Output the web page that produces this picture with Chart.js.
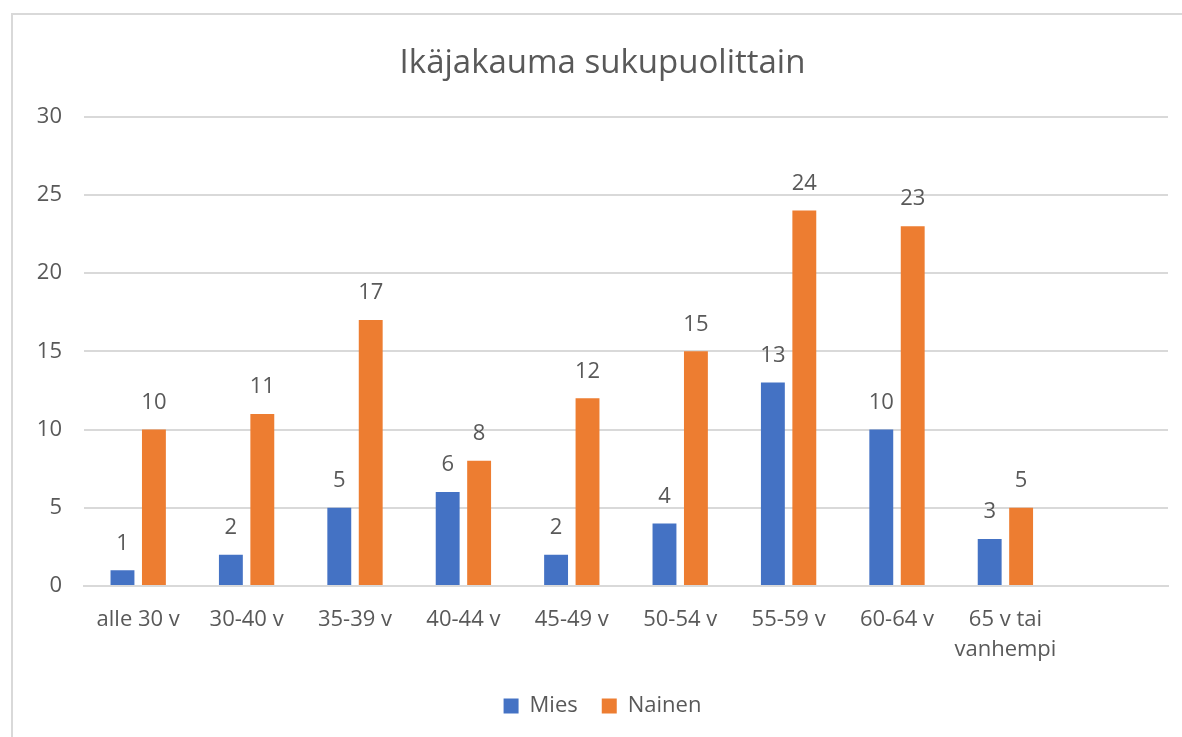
<!DOCTYPE html>
<html>
<head>
<meta charset="utf-8">
<script src="https://cdn.jsdelivr.net/npm/chart.js@4"></script>
<style>
  html, body { margin: 0; padding: 0; background: #fff; overflow: hidden; }
  #frame {
    position: absolute; left: 11px; top: 13px;
    border-left: 2px solid #d9d9d9; border-top: 2px solid #d9d9d9;
    width: 1169px; height: 722px;
  }
</style>
</head>
<body>
<div id="frame"><canvas id="chart_ages"></canvas></div>
<script>
const categories = ['alle 30 v', '30-40 v', '35-39 v', '40-44 v', '45-49 v', '50-54 v', '55-59 v', '60-64 v', ['65 v tai', 'vanhempi'], ''];
const mies = [1, 2, 5, 6, 2, 4, 13, 10, 3, null];
const nainen = [10, 11, 17, 8, 12, 15, 24, 23, 5, null];
const yTicks = [0, 5, 10, 15, 20, 25, 30];

const textColor = '#595959';
const fontFamily = "'Segoe UI', 'Open Sans', sans-serif";

// values above the bars, like Excel data labels
const barValues = {
    id: 'barValues',
    afterDatasetsDraw(chart) {
        const c = chart.ctx;
        c.save();
        c.font = '22px ' + fontFamily;
        c.fillStyle = textColor;
        c.textAlign = 'center';
        c.textBaseline = 'middle';
        chart.data.datasets.forEach((ds, i) => {
            chart.getDatasetMeta(i).data.forEach((bar, j) => {
                if (ds.data[j] == null) return;
                c.fillText(ds.data[j], bar.x, bar.y - 27);
            });
        });
        c.restore();
    }
};

const ctx = document.querySelector('#chart_ages').getContext('2d');
const chart = new Chart(ctx, {
    type: 'bar',
    data: {
        labels: categories,
        datasets: [{
            label: 'Mies',
            data: mies,
            backgroundColor: '#4472c4'
        }, {
            label: 'Nainen',
            data: nainen,
            backgroundColor: '#ed7d31'
        }]
    },
    options: {
        responsive: true,
        maintainAspectRatio: false,
        animation: false,
        categoryPercentage: 0.58,
        barPercentage: 0.76,
        layout: {
            padding: { top: 0, left: 24, right: 14, bottom: 10 }
        },
        scales: {
            x: {
                afterFit(scale) { scale.height = 85; },
                grid: { display: false },
                border: { color: '#d9d9d9', width: 2 },
                ticks: {
                    color: textColor,
                    font: { family: fontFamily, size: 22, lineHeight: 1.364 },
                    padding: 11,
                    maxRotation: 0,
                    autoSkip: false
                }
            },
            y: {
                min: 0,
                max: 30,
                afterFit(scale) { scale.width = 47; },
                afterBuildTicks(scale) { scale.ticks = yTicks.map(v => ({ value: v })); },
                grid: { color: '#d9d9d9', lineWidth: 2, drawTicks: false },
                border: { display: false },
                ticks: {
                    color: textColor,
                    font: { family: fontFamily, size: 22 },
                    padding: 22
                }
            }
        },
        plugins: {
            legend: {
                display: true,
                position: 'bottom',
                labels: {
                    color: textColor,
                    font: { family: fontFamily, size: 22 },
                    boxWidth: 15,
                    boxHeight: 15,
                    padding: 24
                }
            },
            title: {
                display: true,
                text: 'Ikäjakauma sukupuolittain',
                color: textColor,
                font: { family: fontFamily, size: 33, weight: 'normal' },
                padding: { top: 29, bottom: 33 }
            },
            tooltip: { enabled: false }
        }
    },
    plugins: [barValues]
});
</script>
</body>
</html>
